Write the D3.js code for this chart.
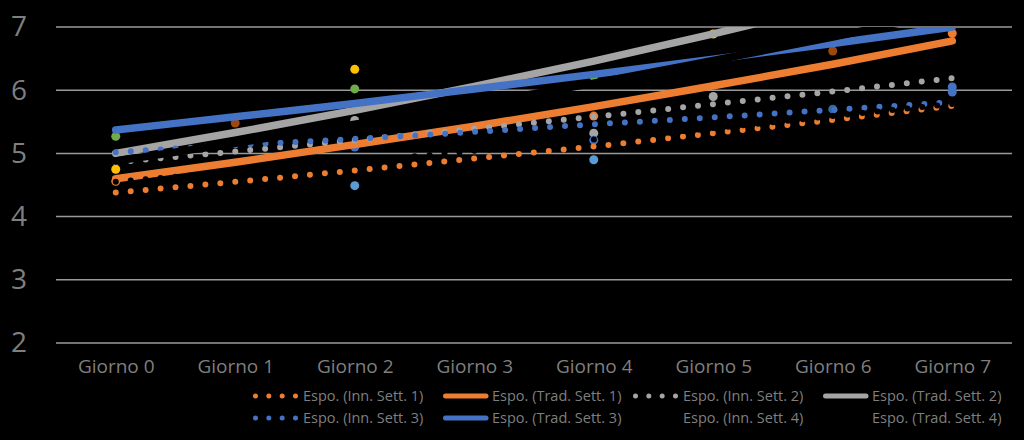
<!DOCTYPE html>
<html>
<head>
<meta charset="utf-8">
<script src="https://cdn.jsdelivr.net/npm/d3@7"></script>
<style>
  html, body { margin: 0; padding: 0; background: #000; }
  svg { display: block; }
</style>
</head>
<body>
<script>
// categories and ticks
const giorni = ["Giorno 0", "Giorno 1", "Giorno 2", "Giorno 3", "Giorno 4", "Giorno 5", "Giorno 6", "Giorno 7"];
const yTicks = [2, 3, 4, 5, 6, 7];

// exponential trendlines, value read at each day
const innSett1 = [4.38, 4.55, 4.73, 4.92, 5.11, 5.32, 5.53, 5.75];
const tradSett1 = [4.60, 4.86, 5.14, 5.43, 5.74, 6.07, 6.41, 6.78];
const innSett2 = [4.86, 5.03, 5.21, 5.39, 5.58, 5.78, 5.98, 6.19];
const tradSett2 = [5.00, 5.33, 5.68, 6.06, 6.46, 6.89, 7.35, 7.83];
const innSett3 = [5.02, 5.13, 5.23, 5.34, 5.46, 5.57, 5.69, 5.81];
const tradSett3 = [5.37, 5.58, 5.79, 6.02, 6.25, 6.49, 6.74, 7.00];
const innSett4 = [4.55, 4.71, 4.87, 5.04, 5.22, 5.40, 5.59, 5.78];
const tradSett4 = [4.88, 5.16, 5.46, 5.78, 6.11, 6.47, 6.84, 7.24];

// single points (day index, value)
const puntiVerde = [[0, 5.27], [2, 6.02], [4, 6.22]];
const puntiGiallo = [[0, 4.75], [2, 6.33], [5, 6.89]];
const puntiArancio = [[0, 4.56], [4, 5.59], [7, 6.90]];
const puntiMarrone = [[1, 5.48], [6, 6.62]];
const puntiAzzurro = [[2, 4.49], [4, 4.90]];
const puntiBlu = [[2, 5.10], [4, 5.21], [7, 6.05], [7, 5.97]];
const puntiGrigio = [[2, 5.52], [4, 5.32], [5, 5.90]];
const puntiBluScuro = [[6, 5.70]];

const width = 1024;
const height = 440;
const plot = { left: 56, right: 1012, top: 27, bottom: 343 };
const textColor = "#7f7f7f";
const font = "'Open Sans', 'Noto Sans', sans-serif";

const svg = d3.select("body")
  .append("svg")
  .attr("width", width)
  .attr("height", height)
  .style("background", "#000");

const x = d3.scalePoint()
  .domain(giorni)
  .range([plot.left, plot.right])
  .padding(0.5);

const y = d3.scaleLinear()
  .domain([2, 7])
  .range([plot.bottom, plot.top]);

// gridlines
svg.append("g")
  .selectAll("line")
  .data(yTicks)
  .join("line")
  .attr("x1", plot.left)
  .attr("x2", plot.right)
  .attr("y1", d => y(d))
  .attr("y2", d => y(d))
  .attr("stroke", "#9a9a9a")
  .attr("stroke-width", 1.5);

// y axis labels
const yAxis = svg.append("g")
  .attr("transform", `translate(${plot.left - 29},0)`)
  .call(d3.axisLeft(y).tickValues(yTicks).tickSize(0).tickPadding(0).tickFormat(d3.format("d")));
yAxis.select(".domain").remove();
yAxis.selectAll("text")
  .attr("fill", textColor)
  .style("font-family", font)
  .style("font-size", "28px");

// x axis labels
const xAxis = svg.append("g")
  .attr("transform", `translate(0,${plot.bottom + 16})`)
  .call(d3.axisBottom(x).tickSize(0).tickPadding(0));
xAxis.select(".domain").remove();
xAxis.selectAll("text")
  .attr("fill", textColor)
  .style("font-family", font)
  .style("font-size", "19px");

svg.append("clipPath")
  .attr("id", "area")
  .append("rect")
  .attr("x", plot.left)
  .attr("y", plot.top)
  .attr("width", plot.right - plot.left)
  .attr("height", plot.bottom - plot.top);

// markers under the trendlines
const markers = [
  { data: puntiGrigio, color: "#a5a5a5" },
  { data: puntiAzzurro, color: "#5b9bd5" },
  { data: puntiVerde, color: "#70ad47" },
  { data: puntiGiallo, color: "#ffc000" },
  { data: puntiArancio, color: "#ed7d31" },
  { data: puntiMarrone, color: "#9e480e" },
  { data: puntiBlu, color: "#4472c4" },
  { data: puntiBluScuro, color: "#2e6a9e" }
];

const gMarkers = svg.append("g");
markers.forEach(m => {
  gMarkers.append("g")
    .selectAll("circle")
    .data(m.data)
    .join("circle")
    .attr("cx", d => x(giorni[d[0]]))
    .attr("cy", d => y(d[1]))
    .attr("r", 4.5)
    .attr("fill", m.color);
});

// trendlines, legend order
const trends = [
  { name: "Espo. (Inn. Sett. 1)", values: innSett1, color: "#ed7d31", dotted: true },
  { name: "Espo. (Trad. Sett. 1)", values: tradSett1, color: "#ed7d31", dotted: false },
  { name: "Espo. (Inn. Sett. 2)", values: innSett2, color: "#a5a5a5", dotted: true },
  { name: "Espo. (Trad. Sett. 2)", values: tradSett2, color: "#a5a5a5", dotted: false },
  { name: "Espo. (Inn. Sett. 3)", values: innSett3, color: "#4472c4", dotted: true },
  { name: "Espo. (Trad. Sett. 3)", values: tradSett3, color: "#4472c4", dotted: false },
  { name: "Espo. (Inn. Sett. 4)", values: innSett4, color: "#000000", dotted: true },
  { name: "Espo. (Trad. Sett. 4)", values: tradSett4, color: "#000000", dotted: false }
];

const line = d3.line()
  .x((d, i) => x(giorni[i]))
  .y(d => y(d))
  .curve(d3.curveMonotoneX);

svg.append("g")
  .attr("clip-path", "url(#area)")
  .selectAll("path")
  .data(trends)
  .join("path")
  .attr("d", d => line(d.values))
  .attr("fill", "none")
  .attr("stroke", d => d.color)
  .attr("stroke-width", d => d.dotted ? 6 : 7.5)
  .attr("stroke-linecap", "round")
  .attr("stroke-dasharray", d => d.dotted ? "0 15" : null);

// legend, 4 columns x 2 rows
const legend = svg.append("g");
const legendItems = legend.selectAll("g")
  .data(trends)
  .join("g")
  .attr("transform", (d, i) => `translate(${253 + (i % 4) * 190},${396 + Math.floor(i / 4) * 22})`);

legendItems.append("line")
  .attr("x1", d => d.dotted ? 2.5 : 2.5)
  .attr("x2", d => d.dotted ? 42.5 : 43)
  .attr("y1", 0)
  .attr("y2", 0)
  .attr("stroke", d => d.color)
  .attr("stroke-width", 5)
  .attr("stroke-linecap", "round")
  .attr("stroke-dasharray", d => d.dotted ? "0 13.33" : null);

legendItems.append("text")
  .attr("x", d => d.dotted ? 50 : 49)
  .attr("y", 5)
  .attr("fill", textColor)
  .style("font-family", font)
  .style("font-size", "14.5px")
  .text(d => d.name);
</script>
</body>
</html>
